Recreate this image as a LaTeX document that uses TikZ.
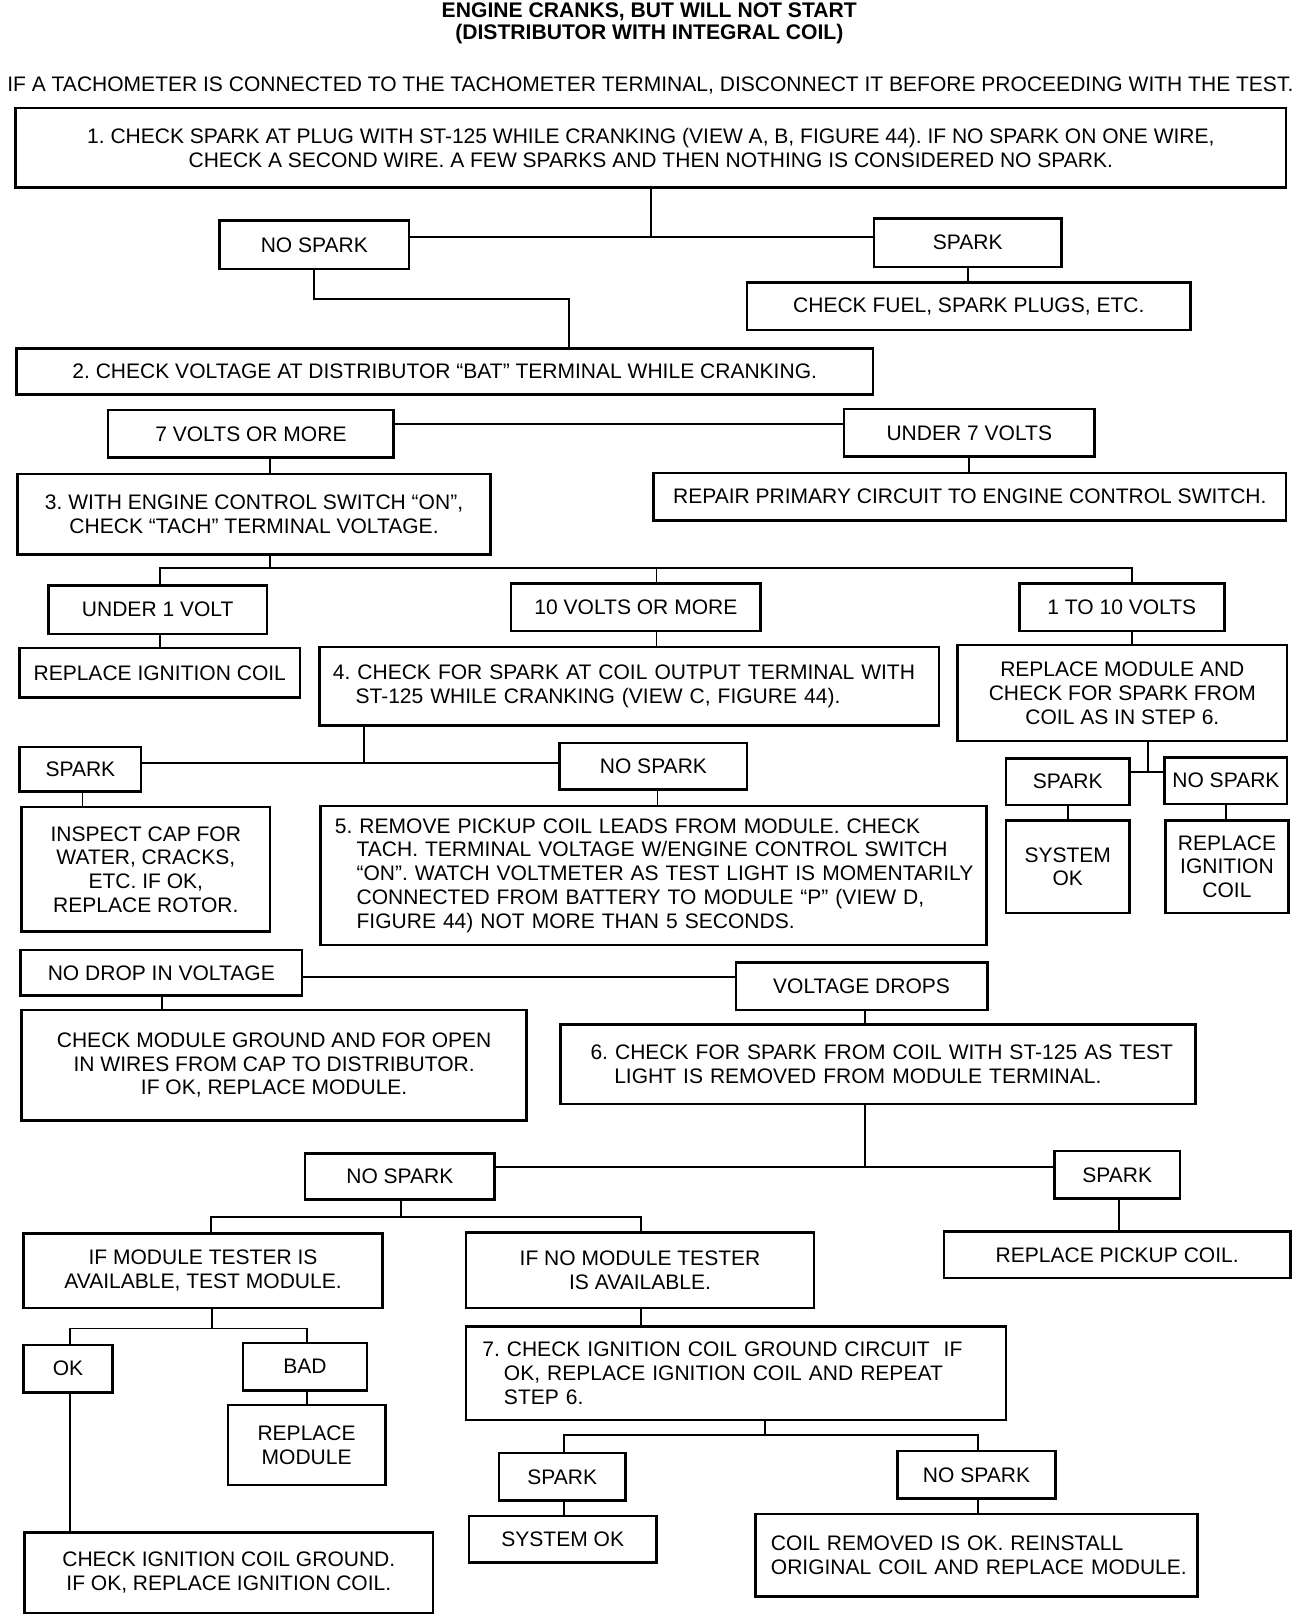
\documentclass[tikz,border=0pt]{standalone}
\usepackage{fontspec}
\setmainfont{Liberation Sans}
\frenchspacing
\newcommand\fs{\fontsize{20.4}{23}\selectfont}
\tikzset{
  box/.style={draw, line width=2.4pt, inner sep=0pt, align=center, font=\fs},
  lbox/.style={box, align=left},
  wire/.style={line width=1.8pt},
  lbl/.style={inner sep=0pt, font=\fs},
}
\begin{document}
\begin{tikzpicture}[x=1pt,y=-1pt]
\fill[white] (0,0) rectangle (1273,1568);
\useasboundingbox (0,0) rectangle (1273,1568);

% titles
\node[lbl, font=\bfseries\fontsize{20.5}{22}\selectfont] (t1) at (630,11) {ENGINE CRANKS, BUT WILL NOT START};
\node[lbl, font=\bfseries\fontsize{20.5}{22}\selectfont] (t2) at (630,33) {(DISTRIBUTOR WITH INTEGRAL COIL)};
\node[lbl] (note) at (631,83) {IF A TACHOMETER IS CONNECTED TO THE TACHOMETER TERMINAL, DISCONNECT IT BEFORE PROCEEDING WITH THE TEST.};

% boxes
\node[box, minimum width=1233pt, minimum height=77pt] (b1) at (631.5,143.5)
  {1. CHECK SPARK AT PLUG WITH ST-125 WHILE CRANKING (VIEW A, B, FIGURE 44). IF NO SPARK ON ONE WIRE,\\CHECK A SECOND WIRE. A FEW SPARKS AND THEN NOTHING IS CONSIDERED NO SPARK.};
\node[box, minimum width=184pt, minimum height=47pt] (ns1) at (305,237.5) {NO SPARK};
\node[box, minimum width=182pt, minimum height=47pt] (sp1) at (939,235.5) {SPARK};
\node[box, minimum width=430pt, minimum height=46pt] (fuel) at (940,297) {CHECK FUEL, SPARK PLUGS, ETC.};
\node[box, minimum width=831pt, minimum height=45pt] (b2) at (431.5,360.5) {2. CHECK VOLTAGE AT DISTRIBUTOR “BAT” TERMINAL WHILE CRANKING.};
\node[box, minimum width=277pt, minimum height=46pt] (v7) at (243.5,421) {7 VOLTS OR MORE};
\node[box, minimum width=243pt, minimum height=46pt] (u7) at (940.5,420) {UNDER 7 VOLTS};
\node[box, minimum width=459pt, minimum height=78pt] (b3) at (246.5,499) {3. WITH ENGINE CONTROL SWITCH “ON”,\\CHECK “TACH” TERMINAL VOLTAGE.};
\node[box, minimum width=614pt, minimum height=46pt] (repair) at (941,482) {REPAIR PRIMARY CIRCUIT TO ENGINE CONTROL SWITCH.};
\node[box, minimum width=212pt, minimum height=47pt] (u1) at (153,591.5) {UNDER 1 VOLT};
\node[box, minimum width=242pt, minimum height=46pt] (v10) at (617,589) {10 VOLTS OR MORE};
\node[box, minimum width=199pt, minimum height=46pt] (v110) at (1088.5,589) {1 TO 10 VOLTS};
\node[box, minimum width=272pt, minimum height=48pt] (ric) at (155,653) {REPLACE IGNITION COIL};
\node[lbox, text width=575pt, inner xsep=13pt, minimum height=76pt] (b4) at (610.5,666)
  {\mbox{4. CHECK FOR SPARK AT COIL OUTPUT TERMINAL WITH}\\\mbox{\hspace{22pt}ST-125 WHILE CRANKING (VIEW C, FIGURE 44).}};
\node[box, minimum width=320pt, minimum height=93pt] (rm) at (1089,672.5) {REPLACE MODULE AND\\CHECK FOR SPARK FROM\\COIL AS IN STEP 6.};
\node[box, minimum width=118pt, minimum height=43pt] (sp2) at (78,746.5) {SPARK};
\node[box, minimum width=182pt, minimum height=45pt] (ns2) at (634,743.5) {NO SPARK};
\node[box, minimum width=120pt, minimum height=45pt] (sp3) at (1036,758.5) {SPARK};
\node[box, minimum width=119pt, minimum height=45pt] (ns3) at (1189.5,757.5) {NO SPARK};
\node[box, minimum width=241pt, minimum height=121pt] (insp) at (141.5,843.5) {INSPECT CAP FOR\\WATER, CRACKS,\\ETC. IF OK,\\REPLACE ROTOR.};
\node[lbox, text width=618pt, inner xsep=14pt, minimum height=135pt] (b5) at (634,849.5)
  {\mbox{5. REMOVE PICKUP COIL LEADS FROM MODULE. CHECK}\\
   \mbox{\hspace{21pt}TACH. TERMINAL VOLTAGE W/ENGINE CONTROL SWITCH}\\
   \mbox{\hspace{21pt}“ON”. WATCH VOLTMETER AS TEST LIGHT IS MOMENTARILY}\\
   \mbox{\hspace{21pt}CONNECTED FROM BATTERY TO MODULE “P” (VIEW D,}\\
   \mbox{\hspace{21pt}FIGURE 44) NOT MORE THAN 5 SECONDS.}};
\node[box, minimum width=120pt, minimum height=90pt] (sok1) at (1036,841) {SYSTEM\\OK};
\node[box, minimum width=119pt, minimum height=90pt] (ric2) at (1190.5,841) {REPLACE\\IGNITION\\COIL};
\node[box, minimum width=273pt, minimum height=44pt] (nodrop) at (156.5,944) {NO DROP IN VOLTAGE};
\node[box, minimum width=244pt, minimum height=46pt] (vdrops) at (836,957) {VOLTAGE DROPS};
\node[box, minimum width=490pt, minimum height=107pt] (cmg) at (266,1033.5) {CHECK MODULE GROUND AND FOR OPEN\\IN WIRES FROM CAP TO DISTRIBUTOR.\\IF OK, REPLACE MODULE.};
\node[lbox, text width=558pt, inner xsep=29pt, minimum height=77pt] (b6) at (852,1032.5)
  {\mbox{6. CHECK FOR SPARK FROM COIL WITH ST-125 AS TEST}\\\mbox{\hspace{23pt}LIGHT IS REMOVED FROM MODULE TERMINAL.}};
\node[box, minimum width=184pt, minimum height=45pt] (ns4) at (388,1141.5) {NO SPARK};
\node[box, minimum width=122pt, minimum height=46pt] (sp4) at (1084,1140) {SPARK};
\node[box, minimum width=336pt, minimum height=45pt] (rpc) at (1084,1217.5) {REPLACE PICKUP COIL.};
\node[box, minimum width=348pt, minimum height=72pt] (imt) at (197,1233) {IF MODULE TESTER IS\\AVAILABLE, TEST MODULE.};
\node[box, minimum width=338pt, minimum height=73pt] (inmt) at (621,1232.5) {IF NO MODULE TESTER\\IS AVAILABLE.};
\node[box, minimum width=86pt, minimum height=46pt] (ok) at (66,1328) {OK};
\node[box, minimum width=120pt, minimum height=46pt] (bad) at (296,1326) {BAD};
\node[box, minimum width=153pt, minimum height=78pt] (rmod) at (297.5,1402) {REPLACE\\MODULE};
\node[lbox, text width=492pt, inner xsep=16pt, minimum height=91pt] (b7) at (714,1332.5)
  {\mbox{7. CHECK IGNITION COIL GROUND CIRCUIT~ IF}\\\mbox{\hspace{21pt}OK, REPLACE IGNITION COIL AND REPEAT}\\\mbox{\hspace{21pt}STEP 6.}};
\node[box, minimum width=123pt, minimum height=46pt] (sp5) at (545.5,1433) {SPARK};
\node[box, minimum width=153pt, minimum height=46pt] (ns5) at (947.5,1431) {NO SPARK};
\node[box, minimum width=182pt, minimum height=45pt] (sok2) at (546,1493.5) {SYSTEM OK};
\node[lbox, text width=399pt, inner xsep=15pt, minimum height=80pt] (coil) at (947.5,1509)
  {\mbox{COIL REMOVED IS OK. REINSTALL}\\\mbox{ORIGINAL COIL AND REPLACE MODULE.}};
\node[box, minimum width=396pt, minimum height=78pt] (cicg) at (222,1526) {CHECK IGNITION COIL GROUND.\\IF OK, REPLACE IGNITION COIL.};

% connectors
\coordinate (j1) at (632,230);
\draw[wire] (b1.south -| j1) -- (j1);
\draw[wire] (ns1.east |- j1) -- (sp1.west |- j1);
\draw[wire] (sp1.south) -- (sp1.south |- fuel.north);
\coordinate (j2) at (552,290);
\draw[wire] (ns1.south) |- (j2) -- (j2 |- b2.north);

\coordinate (j3) at (0,411);
\draw[wire] (v7.east |- j3) -- (u7.west |- j3);
\coordinate (j4) at (262,0);
\draw[wire] (v7.south -| j4) -- (b3.north -| j4);
\draw[wire] (u7.south) -- (u7.south |- repair.north);

\coordinate (j5) at (262,551);
\coordinate (bl) at (155,551);
\coordinate (bm) at (637,551);
\coordinate (br) at (1098,551);
\draw[wire] (b3.south -| j5) -- (j5);
\draw[wire] (u1.north -| bl) |- (br) -- (v110.north -| br);
\draw[wire] (bm) -- (v10.north -| bm);
\draw[wire] (u1.south -| bl) -- (ric.north -| bl);
\draw[wire] (v10.south -| bm) -- (b4.north -| bm);
\draw[wire] (v110.south -| br) -- (rm.north -| br);

\coordinate (j6) at (353,740);
\draw[wire] (b4.south -| j6) -- (j6);
\draw[wire] (sp2.east |- j6) -- (ns2.west |- j6);
\coordinate (j7) at (80,0);
\draw[wire] (sp2.south -| j7) -- (insp.north -| j7);
\coordinate (j8) at (638,0);
\draw[wire] (ns2.south -| j8) -- (b5.north -| j8);
\coordinate (j9) at (1114,749);
\draw[wire] (rm.south -| j9) -- (j9);
\draw[wire] (sp3.east |- j9) -- (ns3.west |- j9);
\draw[wire] (sp3.south) -- (sok1.north);
\draw[wire] (ns3.south) -- (ns3.south |- ric2.north);

\coordinate (j10) at (0,948);
\draw[wire] (nodrop.east |- j10) -- (vdrops.west |- j10);
\coordinate (j11) at (157,0);
\draw[wire] (nodrop.south -| j11) -- (cmg.north -| j11);
\coordinate (j12) at (839,1132);
\draw[wire] (vdrops.south -| j12) -- (b6.north -| j12);
\draw[wire] (b6.south -| j12) -- (j12);
\draw[wire] (ns4.east |- j12) -- (sp4.west |- j12);
\coordinate (j13) at (1086,0);
\draw[wire] (sp4.south -| j13) -- (rpc.north -| j13);

\coordinate (j14) at (389,1181);
\coordinate (bl2) at (205,1181);
\coordinate (br2) at (622,1181);
\draw[wire] (ns4.south -| j14) -- (j14);
\draw[wire] (imt.north -| bl2) |- (br2) -- (inmt.north -| br2);
\coordinate (j15) at (206,1289);
\coordinate (bl3) at (68,1289);
\coordinate (br3) at (298,1289);
\draw[wire] (imt.south -| j15) -- (j15);
\draw[wire] (ok.north -| bl3) |- (br3) -- (bad.north -| br3);
\draw[wire] (ok.south -| bl3) -- (cicg.north -| bl3);
\draw[wire] (bad.south -| br3) -- (rmod.north -| br3);
\draw[wire] (inmt.south -| br2) -- (b7.north -| br2);
\coordinate (j16) at (742,1392);
\coordinate (bl4) at (547,1392);
\coordinate (br4) at (949,1392);
\draw[wire] (b7.south -| j16) -- (j16);
\draw[wire] (sp5.north -| bl4) |- (br4) -- (ns5.north -| br4);
\draw[wire] (sp5.south -| bl4) -- (sok2.north -| bl4);
\draw[wire] (ns5.south -| br4) -- (coil.north -| br4);
\end{tikzpicture}
\end{document}
